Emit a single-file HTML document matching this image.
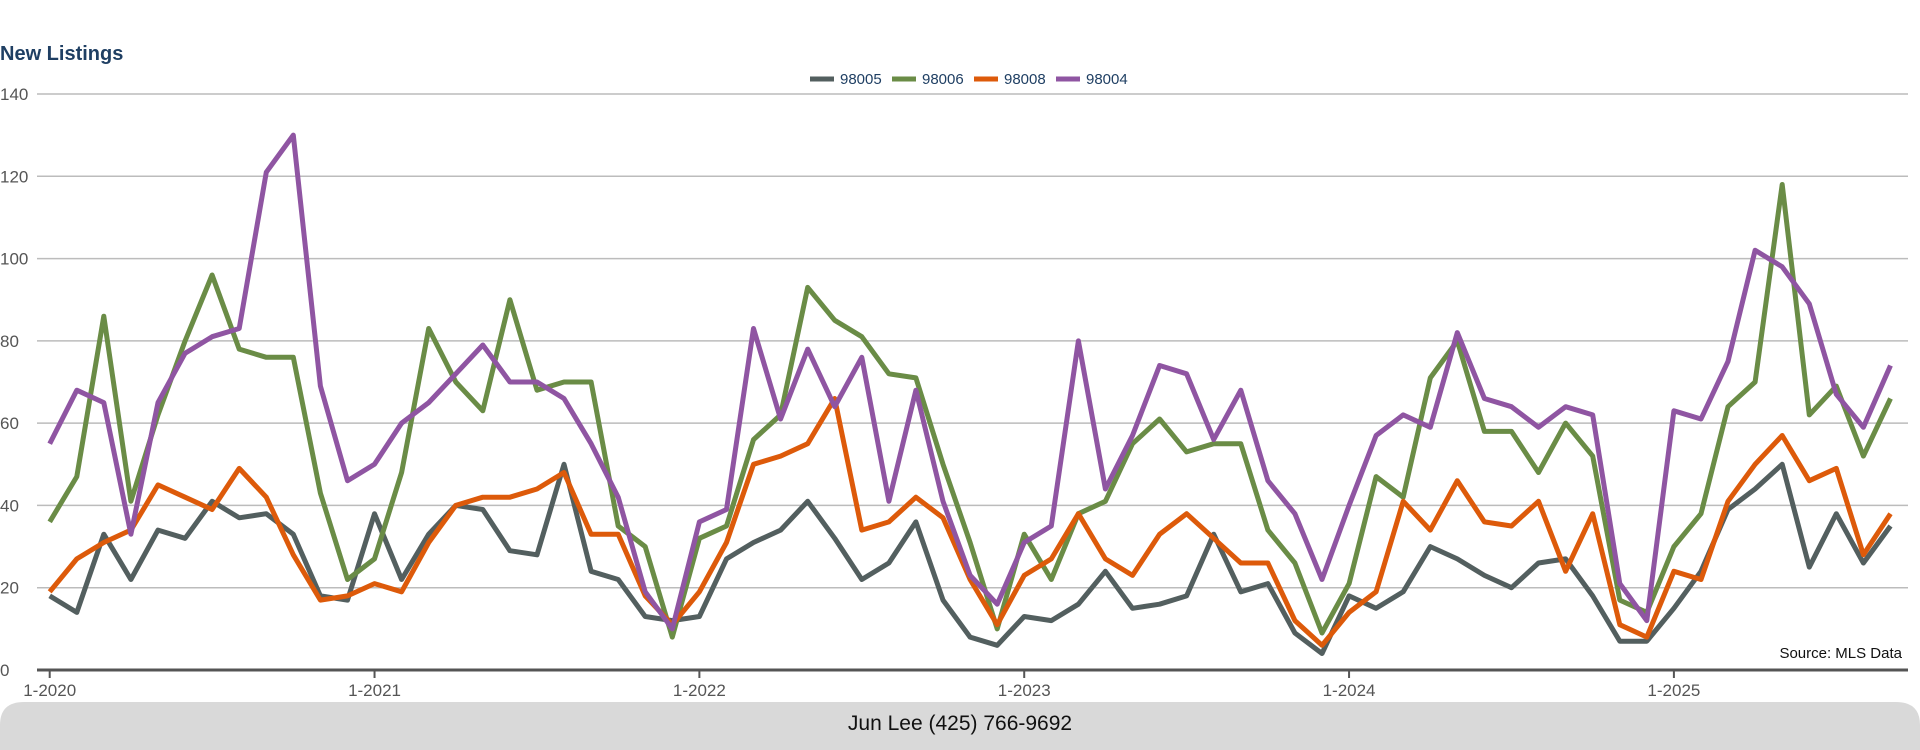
<!DOCTYPE html>
<html><head><meta charset="utf-8"><style>
html,body{margin:0;padding:0;background:#fff;width:1920px;height:750px;overflow:hidden;font-family:"Liberation Sans",sans-serif}
</style></head><body>
<svg id="chart" width="1920" height="750" xmlns="http://www.w3.org/2000/svg">
<text x="0" y="60" font-size="20" font-weight="bold" fill="#1f3f63" font-family="Liberation Sans">New Listings</text>
<g id="grid"></g>
<g id="yticks"></g>
<g id="xticks"></g>
<g id="series"></g>
<g id="legend"></g>
<text x="1902" y="658" font-size="15" text-anchor="end" fill="#111">Source: MLS Data</text>
<path d="M0,725 Q0,702 24,702 L1896,702 Q1920,702 1920,725 L1920,750 L0,750 Z" fill="#d9d9d9"/>
<text x="960" y="730" font-size="21" text-anchor="middle" fill="#111">Jun Lee (425) 766-9692</text>
</svg>
<script>
const seriesNames=["98005","98006","98008","98004"];
const seriesColors=["#535f5f","#6a8c46","#dd5a0a","#8f55a2"];
const yTicks=[0,20,40,60,80,100,120,140];
const xTickLabels=["1-2020","1-2021","1-2022","1-2023","1-2024","1-2025"];
const s98005=[18,14,33,22,34,32,41,37,38,33,18,17,38,22,33,40,39,29,28,50,24,22,13,12,13,27,31,34,41,32,22,26,36,17,8,6,13,12,16,24,15,16,18,33,19,21,9,4,18,15,19,30,27,23,20,26,27,18,7,7,15,24,39,44,50,25,38,26,35];
const s98006=[36,47,86,41,62,80,96,78,76,76,43,22,27,48,83,70,63,90,68,70,70,35,30,8,32,35,56,62,93,85,81,72,71,50,31,10,33,22,38,41,55,61,53,55,55,34,26,9,21,47,42,71,80,58,58,48,60,52,17,14,30,38,64,70,118,62,69,52,66];
const s98008=[19,27,31,34,45,42,39,49,42,28,17,18,21,19,31,40,42,42,44,48,33,33,18,11,19,31,50,52,55,66,34,36,42,37,22,11,23,27,38,27,23,33,38,32,26,26,12,6,14,19,41,34,46,36,35,41,24,38,11,8,24,22,41,50,57,46,49,28,38];
const s98004=[55,68,65,33,65,77,81,83,121,130,69,46,50,60,65,72,79,70,70,66,55,42,19,10,36,39,83,61,78,64,76,41,68,41,23,16,31,35,80,44,57,74,72,56,68,46,38,22,40,57,62,59,82,66,64,59,64,62,21,12,63,61,75,102,98,89,67,59,74];
const allSeries=[s98005,s98006,s98008,s98004];
const NS="http://www.w3.org/2000/svg";
const x0=49.7,dx=27.07,yBase=670,yTop=94,yMax=140,plotL=37,plotR=1908;
function xS(i){return x0+i*dx;}
function yS(v){return yBase-(v/yMax)*(yBase-yTop);}
function mk(tag,attrs,parent){const e=document.createElementNS(NS,tag);for(const k in attrs)e.setAttribute(k,attrs[k]);parent.appendChild(e);return e;}
const grid=document.getElementById('grid'),yt=document.getElementById('yticks'),xt=document.getElementById('xticks'),sg=document.getElementById('series'),lg=document.getElementById('legend');
yTicks.forEach(v=>{
  if(v>0){const l=mk('line',{x1:plotL,x2:plotR,y1:yS(v),y2:yS(v),stroke:'#bcbcbc','stroke-width':1.5},grid);
  
  }
  const t=mk('text',{x:0,y:yS(v)+6,'font-size':17,fill:'#555'},yt);t.textContent=v;
  
  
});
const ax=mk('line',{x1:plotL,x2:plotR,y1:yBase,y2:yBase,stroke:'#555','stroke-width':3},xt);


xTickLabels.forEach((lab,k)=>{
  const x=xS(k*12);
  mk('line',{x1:x,x2:x,y1:yBase,y2:yBase+8,stroke:'#555','stroke-width':2},xt);
  const t=mk('text',{x:x,y:696,'font-size':17,fill:'#555','text-anchor':'middle'},xt);t.textContent=lab;
  
  
});
allSeries.forEach((arr,si)=>{
  const d=arr.map((v,i)=>(i?'L':'M')+xS(i).toFixed(1)+','+yS(v).toFixed(1)).join(' ');
  const p=mk('path',{d:d,fill:'none',stroke:seriesColors[si],'stroke-width':5,'stroke-linejoin':'round'},sg);
  
  
});
const lx=[810,892,974,1056];
seriesNames.forEach((n,si)=>{
  const g=mk('g',{},lg);
  
  
  mk('line',{x1:lx[si],x2:lx[si]+24,y1:79,y2:79,stroke:seriesColors[si],'stroke-width':5},g);
  const t=mk('text',{x:lx[si]+30,y:84,'font-size':15,fill:'#1f3f63'},g);t.textContent=n;
});
</script>
</body></html>
